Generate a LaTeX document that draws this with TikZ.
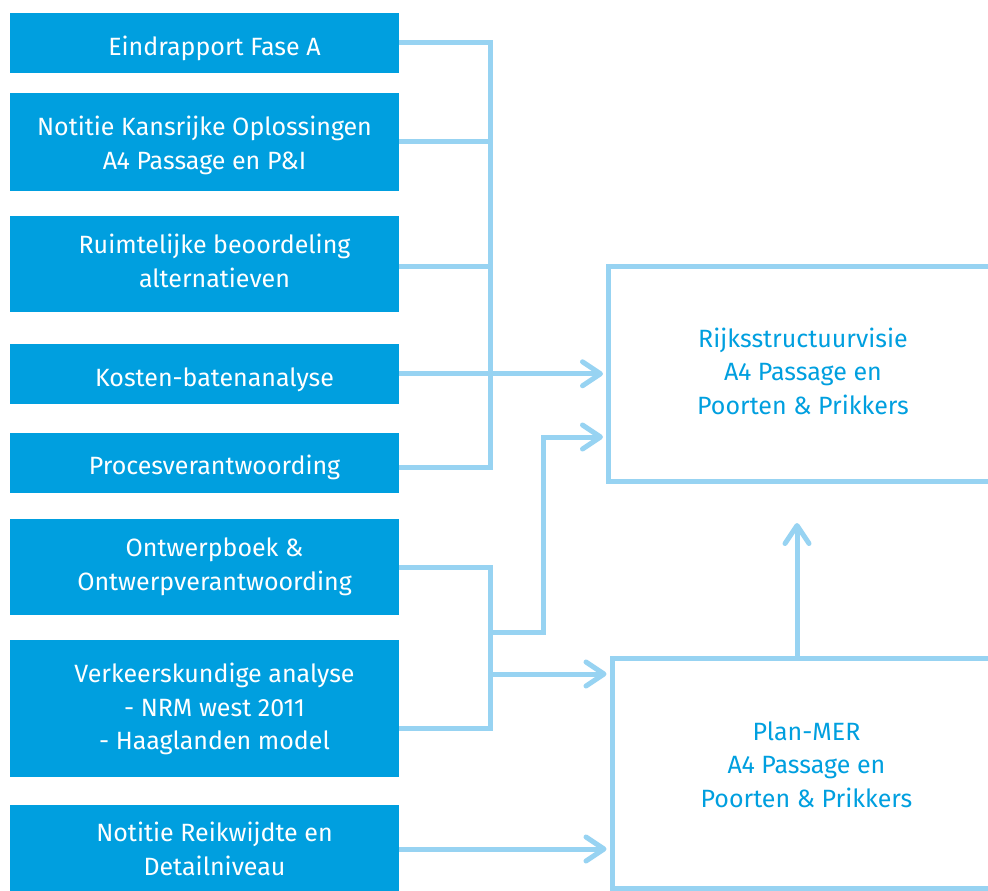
\documentclass[tikz,border=0pt]{standalone}
\usepackage{fontspec}
\setmainfont{Fira Sans}
\usepackage{tikz}
\usetikzlibrary{positioning,arrows.meta}

\definecolor{rwsblue}{RGB}{0,159,223}
\definecolor{rwslight}{RGB}{151,211,242}
\tikzset{
	srcbox/.style={rectangle, fill=rwsblue, text=white, inner sep=0, minimum width=389pt},
	goalbox/.style={rectangle, draw=rwslight, line width=5pt, text=rwsblue, align=center, minimum width=389pt},
	link/.style={draw=rwslight, line width=5pt},
	flow/.style={link, shorten >=3pt, -{Straight Barb[length=18pt,width=24pt,round]}}
}
\newcommand{\srclines}[3]{\raisebox{#2pt}[\height][\depth]{\hspace*{#1pt}\begin{tabular}{@{}c@{}}#3\end{tabular}}}

\begin{document}
\begin{tikzpicture}[x=1pt, y=-1pt, font=\fontsize{25}{33.5}\selectfont]
		\useasboundingbox (0,0) rectangle (988,891);
		\clip (0,0) rectangle (988,891);
		% documenten links
		\foreach \nm/\yy/\hh/\sh/\dy/\txt in {
			e1/42.8/59.7/20/-6/{Eindrapport Fase A},
			k2/141.8/97.7/0/-4/{Notitie Kansrijke Oplossingen\\A4 Passage en P\&I},
			r3/263.8/95.7/20/0/{Ruimtelijke beoordeling\\alternatieven},
			k4/373.8/59.7/20/-6/{Kosten-batenanalyse},
			p5/462.8/59.7/20/-5/{Procesverantwoording},
			o6/567/96/20/0/{Ontwerpboek \&\\Ontwerpverantwoording},
			v7/708.3/136.7/20/-1/{Verkeerskundige analyse\\- NRM west 2011\\- Haaglanden model},
			n8/849/88/20/-3/{Notitie Reikwijdte en\\Detailniveau}} {
			\node[srcbox, minimum height=\hh pt] (\nm) at (204.5,\yy) {\srclines{\sh}{\dy}{\txt}};
		};
		% producten rechts
		\node[goalbox, minimum height=215pt] (rsv) at (803,374) {\srclines{0}{0}{Rijksstructuurvisie\\A4 Passage en\\Poorten \& Prikkers}};
		\node[goalbox, minimum height=230pt] (pmer) at (806.5,773) {\srclines{0}{6}{Plan-MER\\A4 Passage en\\Poorten \& Prikkers}};
		\coordinate (bus) at (490,0);
		\coordinate (j1) at (490,632);
		\coordinate (j2) at (490,674);
		\coordinate (up) at (797,520);
		\draw[link] (e1.east) -- (e1.east -| bus) |- ([yshift=-5pt]p5.east);
		\draw[link] (k2.east) -- (k2.east -| bus);
		\draw[link] ([yshift=-3pt]r3.east) -- ([yshift=-3pt]r3.east -| bus);
		\draw[link] (o6.east) -- (o6.east -| bus) |- ([yshift=-20pt]v7.east);
		\draw[flow] (k4.east) -- (k4.east -| rsv.west);
		\draw[flow] (j1) -- ++(53,0) |- ([yshift=-63pt]rsv.west);
		\draw[flow] (j2) -- (j2 -| pmer.west);
		\draw[flow] (n8.east) -- (n8.east -| pmer.west);
		\draw[flow] (pmer.north -| up) -- (up);
	\end{tikzpicture}
\end{document}
